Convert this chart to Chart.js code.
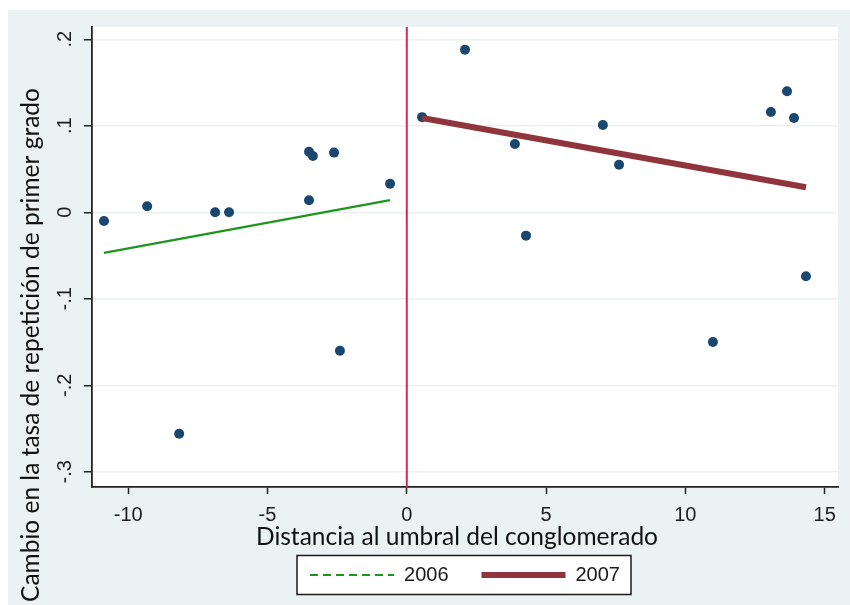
<!DOCTYPE html>
<html>
<head>
<meta charset="utf-8">
<script src="https://cdn.jsdelivr.net/npm/chart.js@4/dist/chart.umd.min.js"></script>
<style>
  html, body { margin: 0; padding: 0; background: #ffffff; }
  canvas { display: block; }
</style>
</head>
<body>
<canvas id="rdChart" width="850" height="605"></canvas>
<script>
// Cluster observations: distance to the cluster threshold and change in first-grade repetition rate
const distance = [-10.87, -9.32, -8.17, -6.88, -6.38, -3.51, -3.51, -3.37, -2.61, -2.40, -0.60,
                  0.55, 2.09, 3.88, 4.28, 7.04, 7.62, 10.99, 13.07, 13.65, 13.90, 14.33];
const repChange = [-0.010, 0.007, -0.256, 0.000, 0.000, 0.014, 0.070, 0.065, 0.069, -0.160, 0.033,
                   0.110, 0.188, 0.079, -0.027, 0.101, 0.055, -0.150, 0.116, 0.140, 0.109, -0.074];

// Linear fits on each side of the threshold
const fit2006X = [-10.87, -0.60];
const fit2006Y = [-0.047, 0.014];
const fit2007X = [0.55, 14.33];
const fit2007Y = [0.109, 0.029];

const seriesNames = ['2006', '2007'];
const thresholdX = 0;

const xTicks = [-10, -5, 0, 5, 10, 15];
const xTickLabels = ['-10', '-5', '0', '5', '10', '15'];
const yTicks = [-0.3, -0.2, -0.1, 0, 0.1, 0.2];
const yTickLabels = ['-.3', '-.2', '-.1', '0', '.1', '.2'];

const xTitle = 'Distancia al umbral del conglomerado';
const yTitle = 'Cambio en la tasa de repetición de primer grado';

const toPoints = (xs, ys) => xs.map((x, i) => ({ x: x, y: ys[i] }));

const legendDash = { '2006': [8, 5] };
const tickFont = { family: '"Liberation Sans", Arial, sans-serif', size: 20 };

// Background panels, axis titles, legend frame and the threshold line
const framePlugin = {
  id: 'framePlugin',
  beforeDraw(chart) {
    const { ctx, chartArea: a, width, height } = chart;
    ctx.save();
    ctx.fillStyle = '#ffffff';
    ctx.fillRect(0, 0, width, height);
    ctx.fillStyle = '#eaf2f3';
    ctx.fillRect(8, 10, width - 8, height - 10);
    ctx.fillStyle = '#ffffff';
    ctx.fillRect(a.left, a.top, a.right - a.left, a.bottom - a.top);

    const boxes = chart.legend && chart.legend.legendHitBoxes;
    if (boxes && boxes.length) {
      const first = boxes[0];
      const last = boxes[boxes.length - 1];
      const cy = first.top + first.height / 2;
      const l = first.left - 13;
      const r = last.left + last.width + 11;
      ctx.fillStyle = '#ffffff';
      ctx.fillRect(l, cy - 19.5, r - l, 39);
      ctx.strokeStyle = '#1a1a1a';
      ctx.lineWidth = 1.5;
      ctx.strokeRect(l, cy - 19.5, r - l, 39);
    }

    ctx.fillStyle = '#111111';
    ctx.font = '24.5px Lato, "Open Sans", sans-serif';
    ctx.textAlign = 'center';
    ctx.textBaseline = 'middle';
    ctx.fillText(xTitle, 457, 537);
    ctx.translate(31, 345);
    ctx.rotate(-Math.PI / 2);
    ctx.fillText(yTitle, 0, 0);
    ctx.restore();
  },
  beforeDatasetsDraw(chart) {
    const { ctx, chartArea: a, scales } = chart;
    const px = scales.x.getPixelForValue(thresholdX);
    ctx.save();
    ctx.strokeStyle = '#d02a55';
    ctx.lineWidth = 2;
    ctx.beginPath();
    ctx.moveTo(px, a.top);
    ctx.lineTo(px, a.bottom);
    ctx.stroke();
    ctx.restore();
  }
};

new Chart(document.getElementById('rdChart'), {
  data: {
    datasets: [
      {
        type: 'line',
        label: seriesNames[0],
        data: toPoints(fit2006X, fit2006Y),
        borderColor: '#1e961e',
        backgroundColor: '#1e961e',
        borderWidth: 2.2,
        pointRadius: 0,
        order: 0
      },
      {
        type: 'line',
        label: seriesNames[1],
        data: toPoints(fit2007X, fit2007Y),
        borderColor: '#90353b',
        backgroundColor: '#90353b',
        borderWidth: 6,
        pointRadius: 0,
        order: 0
      },
      {
        type: 'scatter',
        label: 'observaciones',
        data: toPoints(distance, repChange),
        backgroundColor: '#1a476f',
        borderWidth: 0,
        pointRadius: 5,
        order: 1
      }
    ]
  },
  plugins: [framePlugin],
  options: {
    responsive: false,
    animation: false,
    devicePixelRatio: 1,
    layout: { padding: { left: 8, top: 27, right: 12, bottom: 10 } },
    scales: {
      x: {
        type: 'linear',
        min: -11.30,
        max: 15.48,
        afterBuildTicks: s => { s.ticks = xTicks.map(v => ({ value: v })); },
        afterFit: s => { s.height = 45; },
        grid: { drawOnChartArea: false, drawTicks: true, tickLength: 7, tickColor: '#222222', tickWidth: 1.5 },
        border: { color: '#222222', width: 1.8 },
        ticks: {
          callback: v => xTickLabels[xTicks.indexOf(v)],
          font: tickFont, color: '#1c1c1c', padding: 9, maxRotation: 0, autoSkip: false
        }
      },
      y: {
        type: 'linear',
        min: -0.3176,
        max: 0.2142,
        afterBuildTicks: s => { s.ticks = yTicks.map(v => ({ value: v })); },
        afterFit: s => { s.width = 84; },
        grid: { color: '#eaf2f3', lineWidth: 1.5, tickLength: 8, tickColor: '#222222', tickWidth: 1.5 },
        border: { color: '#222222', width: 1.8 },
        ticks: {
          callback: v => yTickLabels[yTicks.indexOf(v)],
          minRotation: 90, maxRotation: 90, crossAlign: 'center',
          font: tickFont, color: '#1c1c1c', padding: 7, autoSkip: false
        }
      }
    },
    plugins: {
      tooltip: { enabled: false },
      legend: {
        position: 'bottom',
        fullSize: false,
        labels: {
          usePointStyle: true,
          pointStyle: 'line',
          pointStyleWidth: 84,
          padding: 33,
          color: '#1a1a1a',
          font: tickFont,
          filter: item => seriesNames.includes(item.text),
          generateLabels: chart => Chart.defaults.plugins.legend.labels.generateLabels(chart).map(item => {
            if (legendDash[item.text]) item.lineDash = legendDash[item.text];
            return item;
          })
        }
      }
    }
  }
});
</script>
</body>
</html>
